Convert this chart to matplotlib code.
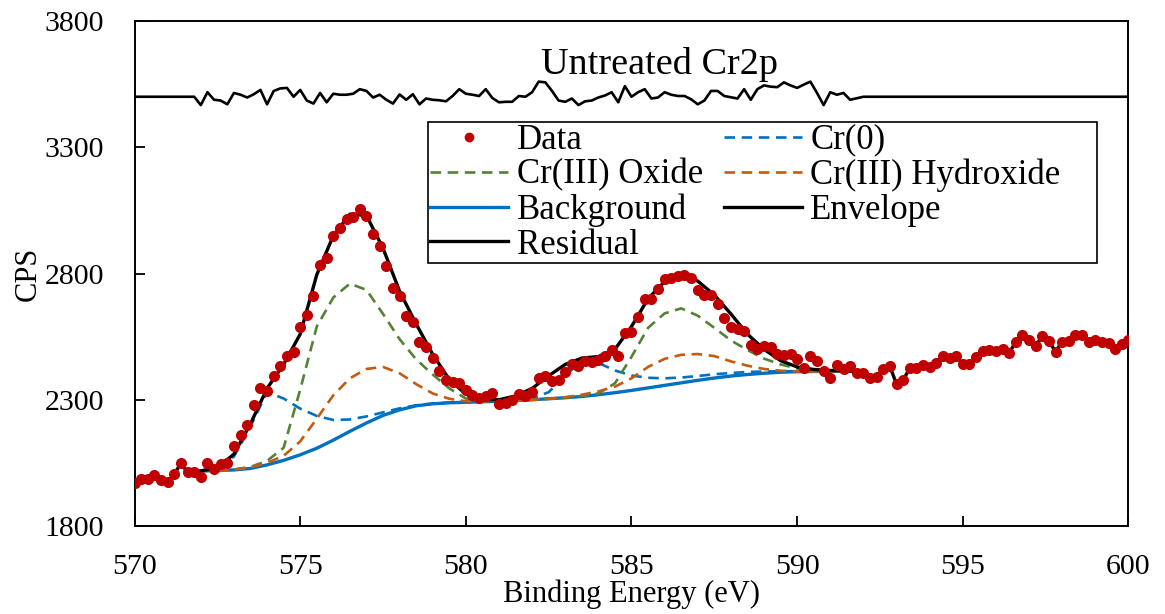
import numpy as np
import matplotlib
matplotlib.use("Agg")
from matplotlib import pyplot as plt

plt.rcParams['font.family'] = ['Liberation Serif', 'DejaVu Serif']

# measured spectrum, 570 -> 600 eV in 0.2 eV steps
data_x = np.linspace(570.0, 600.0, 151)
data_y = [1969, 1988, 1985, 2001, 1983, 1975, 2005, 2049, 2012, 2012,
          1994, 2049, 2025, 2045, 2049, 2117, 2160, 2202, 2279, 2345,
          2333, 2395, 2432, 2472, 2488, 2587, 2636, 2710, 2834, 2863,
          2948, 2982, 3017, 3025, 3054, 3027, 2956, 2908, 2828, 2743,
          2711, 2633, 2609, 2530, 2508, 2464, 2412, 2377, 2371, 2365,
          2340, 2319, 2305, 2313, 2327, 2283, 2287, 2300, 2321, 2313,
          2332, 2385, 2395, 2375, 2379, 2408, 2442, 2435, 2455, 2448,
          2458, 2475, 2498, 2475, 2565, 2570, 2627, 2700, 2700, 2739,
          2779, 2784, 2789, 2795, 2784, 2733, 2716, 2713, 2679, 2624,
          2587, 2580, 2571, 2517, 2501, 2514, 2508, 2480, 2477, 2481,
          2461, 2424, 2472, 2454, 2414, 2385, 2438, 2422, 2432, 2406,
          2406, 2387, 2389, 2422, 2432, 2362, 2379, 2424, 2424, 2438,
          2428, 2446, 2475, 2464, 2472, 2442, 2442, 2468, 2493, 2497,
          2494, 2503, 2485, 2530, 2556, 2538, 2514, 2551, 2534, 2490,
          2530, 2531, 2558, 2557, 2530, 2535, 2530, 2525, 2503, 2521,
          2538]

# fitted curves, 572 -> 592 eV in 0.5 eV steps
fit_x = np.linspace(572.0, 592.0, 41)
background = [2018, 2020, 2022, 2028, 2042, 2060, 2082, 2108, 2140, 2175,
              2208, 2238, 2260, 2276, 2284, 2288, 2290, 2292, 2294, 2297,
              2300, 2304, 2308, 2313, 2320, 2328, 2337, 2347, 2357, 2367,
              2377, 2386, 2394, 2400, 2405, 2409, 2411, 2412, 2413, 2413,
              2413]
cr0 = [2020, 2032, 2075, 2195, 2330, 2305, 2265, 2236, 2220, 2222,
       2234, 2250, 2266, 2278, 2285, 2289, 2291, 2293, 2295, 2298,
       2305, 2330, 2395, 2455, 2446, 2416, 2396, 2387, 2385, 2388,
       2394, 2401, 2406, 2410, 2412, 2413, 2413, 2413, 2413, 2413,
       2413]
oxide = [2018, 2020, 2024, 2034, 2058, 2110, 2340, 2590, 2705, 2760,
         2735, 2640, 2540, 2460, 2400, 2345, 2305, 2294, 2295, 2297,
         2300, 2304, 2308, 2315, 2325, 2365, 2470, 2585, 2642, 2662,
         2633, 2585, 2535, 2497, 2463, 2440, 2424, 2416, 2414, 2413,
         2413]
hydroxide = [2018, 2020, 2023, 2032, 2050, 2078, 2135, 2225, 2318, 2385,
             2422, 2430, 2405, 2362, 2325, 2304, 2294, 2293, 2295, 2297,
             2300, 2304, 2310, 2320, 2333, 2352, 2385, 2430, 2462, 2478,
             2481, 2473, 2452, 2435, 2422, 2415, 2412, 2412, 2413, 2413,
             2413]
envelope = [2018, 2030, 2085, 2205, 2345, 2440, 2560, 2795, 2950, 3035,
            3030, 2900, 2730, 2600, 2480, 2380, 2322, 2302, 2300, 2315,
            2345, 2395, 2440, 2465, 2471, 2500, 2590, 2700, 2768, 2792,
            2770, 2715, 2640, 2560, 2500, 2455, 2430, 2420, 2416, 2414,
            2413]

# residual (offset to 3500), 572 -> 592 eV in 0.2 eV steps, flat outside
resid_x = np.linspace(572.0, 592.0, 101)
residual = [3467, 3518, 3488, 3485, 3470, 3515, 3508, 3497, 3510, 3527,
            3470, 3523, 3533, 3535, 3500, 3527, 3485, 3473, 3515, 3478,
            3512, 3508, 3508, 3512, 3530, 3523, 3497, 3508, 3488, 3473,
            3509, 3488, 3510, 3470, 3493, 3488, 3486, 3482, 3503, 3530,
            3512, 3508, 3503, 3530, 3495, 3478, 3480, 3480, 3503, 3500,
            3518, 3560, 3557, 3523, 3485, 3480, 3493, 3467, 3482, 3485,
            3497, 3505, 3518, 3478, 3542, 3500, 3518, 3530, 3493, 3497,
            3518, 3508, 3503, 3503, 3490, 3470, 3485, 3523, 3523, 3503,
            3498, 3493, 3530, 3488, 3530, 3545, 3540, 3538, 3557, 3545,
            3535, 3548, 3560, 3515, 3467, 3518, 3508, 3515, 3488, 3494,
            3500]
resid_base = 3500

data_y = np.array(data_y)
lo = data_x < 571.9
hi = data_x > 592.1
env_x = np.concatenate([data_x[lo], fit_x, data_x[hi]])
env_y = np.concatenate([data_y[lo], envelope, data_y[hi]])
res_x = np.concatenate([[570.0, 571.8], resid_x, [592.2, 600.0]])
res_y = np.concatenate([[resid_base] * 2, residual, [resid_base] * 2])

fig = plt.figure(figsize=(11.65, 6.14), dpi=100)
ax = fig.add_axes([0.1155, 0.1433, 0.8531, 0.8225])

blue = '#0070C0'
green = '#548235'
orange = '#C55A11'
red = '#C00000'
dash = (0, (4, 2.5))

ax.plot(fit_x, background, color=blue, lw=2.4, zorder=2)
ax.plot(fit_x, cr0, color=blue, lw=1.9, ls=dash, zorder=3)
ax.plot(fit_x, oxide, color=green, lw=1.9, ls=dash, zorder=3)
ax.plot(fit_x, hydroxide, color=orange, lw=1.9, ls=dash, zorder=3)
ax.plot(env_x, env_y, color='black', lw=2.4, zorder=4)
ax.plot(data_x, data_y, 'o', color=red, ms=8, mec='none', zorder=5)
ax.plot(res_x, res_y, color='black', lw=1.9, zorder=4)

ax.text(585.86, 3628, 'Untreated Cr2p', fontsize=27.5, ha='center', va='center')

ax.set_xlim(570, 600)
ax.set_ylim(1800, 3800)
ax.set_xticks([570, 575, 580, 585, 590, 595, 600])
ax.set_yticks([1800, 2300, 2800, 3300, 3800])
ax.tick_params(direction='in', length=7, width=1.3, labelsize=21.5)
ax.tick_params(axis='x', pad=20)
ax.tick_params(axis='y', pad=22)
for s in ax.spines.values():
    s.set_linewidth(1.4)
ax.set_xlabel('Binding Energy (eV)', fontsize=22, labelpad=0)
ax.set_ylabel('CPS', fontsize=22, labelpad=1)

h = [
    plt.Line2D([], [], marker='o', ls='none', color=red, ms=7, mec='none'),
    plt.Line2D([], [], color=green, lw=1.9, ls=dash),
    plt.Line2D([], [], color=blue, lw=2.4),
    plt.Line2D([], [], color='black', lw=2.4),
    plt.Line2D([], [], color=blue, lw=1.9, ls=dash),
    plt.Line2D([], [], color=orange, lw=1.9, ls=dash),
    plt.Line2D([], [], color='black', lw=2.4),
]
labels = ['Data', 'Cr(III) Oxide', 'Background', 'Residual',
          'Cr(0)', 'Cr(III) Hydroxide    ', 'Envelope']
leg = ax.legend(h, labels, ncol=2, fontsize=25, loc='upper left',
                bbox_to_anchor=(428 / 1165, 1 - 122 / 614),
                bbox_transform=fig.transFigure, frameon=True, fancybox=False,
                edgecolor='black', framealpha=1, borderpad=0.05,
                labelspacing=0.05, handlelength=2.25, handletextpad=0.25,
                columnspacing=0.6, borderaxespad=0)
leg.get_frame().set_linewidth(1.2)

fig.savefig('out.png', dpi=100)
